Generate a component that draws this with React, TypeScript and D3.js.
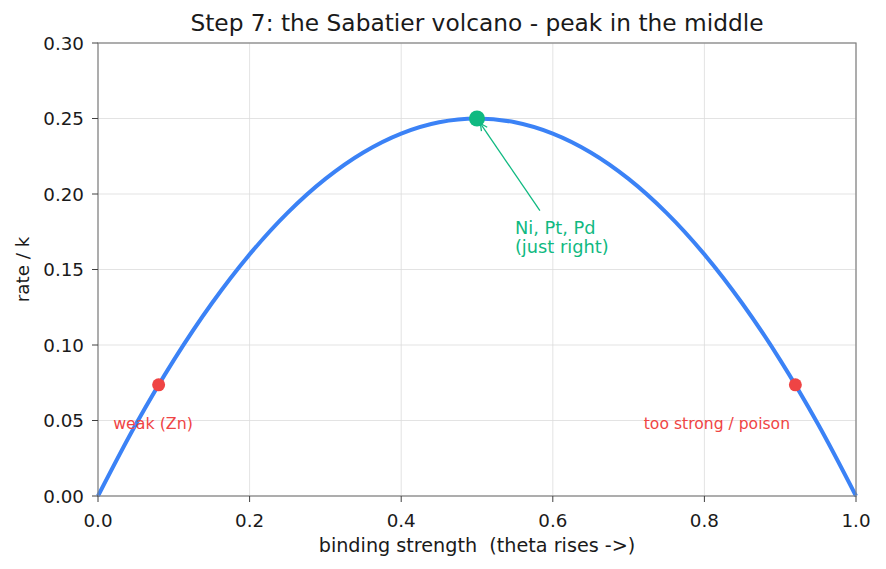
import * as d3 from 'd3'

// coverage (binding strength) and rate
const THETA = [0, 0.05, 0.1, 0.15, 0.2, 0.25, 0.3, 0.35, 0.4, 0.45, 0.5, 0.55, 0.6, 0.65, 0.7, 0.75, 0.8, 0.85, 0.9, 0.95, 1]
const RATE = [0, 0.0475, 0.09, 0.1275, 0.16, 0.1875, 0.21, 0.2275, 0.24, 0.2475, 0.25, 0.2475, 0.24, 0.2275, 0.21, 0.1875, 0.16, 0.1275, 0.09, 0.0475, 0]

// marked catalysts
const EDGE_X = [0.08, 0.92]
const EDGE_Y = [0.0736, 0.0736]
const PEAK = [0.5, 0.25]

const X_TICKS = [0, 0.2, 0.4, 0.6, 0.8, 1.0]
const Y_TICKS = [0, 0.05, 0.1, 0.15, 0.2, 0.25, 0.3]

const BLUE = '#3b82f6'
const RED = '#ef4444'
const GREEN = '#10b981'
const INK = '#1a1a1a'
const FONT = '"DejaVu Sans", sans-serif'

export default function App() {
  const width = 886
  const height = 569
  const m = { left: 98, right: 30, top: 43, bottom: 73 }

  const x = d3.scaleLinear().domain([0, 1]).range([m.left, width - m.right])
  const y = d3.scaleLinear().domain([0, 0.3]).range([height - m.bottom, m.top])

  const pts: [number, number][] = THETA.map((t, i) => [t, RATE[i]])
  const line = d3.line<[number, number]>()
    .x(d => x(d[0]))
    .y(d => y(d[1]))
    .curve(d3.curveCatmullRom.alpha(0.5))

  const x0 = x(0), x1 = x(1), y0 = y(0), y1 = y(0.3)

  // arrow from the label to the peak point
  const ax0 = x(0.583), ay0 = y(0.189)
  const px = x(PEAK[0]), py = y(PEAK[1])
  const ang = Math.atan2(py - ay0, px - ax0)
  const tipX = px - Math.cos(ang) * 6
  const tipY = py - Math.sin(ang) * 6
  const head = 7
  const hw = 3.5
  const fx = d3.format('.1f')
  const fy = d3.format('.2f')

  return (
    <svg width={width} height={height} style={{ position: 'absolute', left: 0, top: 0, background: '#fff' }} fontFamily={FONT}>
      <text x={(x0 + x1) / 2} y={31} textAnchor="middle" fontSize={23.3} fill={INK}>
        Step 7: the Sabatier volcano - peak in the middle
      </text>

      {/* grid */}
      {X_TICKS.map(t => (
        <line key={`gx${t}`} x1={x(t)} x2={x(t)} y1={y0} y2={y1} stroke="#dcdcdc" strokeWidth={0.8} />
      ))}
      {Y_TICKS.map(t => (
        <line key={`gy${t}`} x1={x0} x2={x1} y1={y(t)} y2={y(t)} stroke="#dcdcdc" strokeWidth={0.8} />
      ))}

      <path d={line(pts) ?? ''} fill="none" stroke={BLUE} strokeWidth={4} />

      {EDGE_X.map((v, i) => (
        <circle key={`e${i}`} cx={x(v)} cy={y(EDGE_Y[i])} r={6.5} fill={RED} />
      ))}
      <circle cx={px} cy={py} r={8} fill={GREEN} />

      {/* annotation arrow */}
      <line x1={ax0} y1={ay0} x2={tipX - Math.cos(ang) * 2} y2={tipY - Math.sin(ang) * 2} stroke={GREEN} strokeWidth={1.3} />
      <path
        d={`M${tipX},${tipY} L${tipX - Math.cos(ang) * head - Math.sin(ang) * hw},${tipY - Math.sin(ang) * head + Math.cos(ang) * hw} M${tipX},${tipY} L${tipX - Math.cos(ang) * head + Math.sin(ang) * hw},${tipY - Math.sin(ang) * head - Math.cos(ang) * hw}`}
        stroke={GREEN} strokeWidth={1.3} fill="none"
      />
      <text x={x(0.55)} y={234} fontSize={17.8} fill={GREEN}>Ni, Pt, Pd</text>
      <text x={x(0.55)} y={253} fontSize={17.8} fill={GREEN}>(just right)</text>

      <text x={x(0.02)} y={429} fontSize={15.8} fill={RED}>weak (Zn)</text>
      <text x={x(0.72)} y={429} fontSize={15.6} fill={RED}>too strong / poison</text>

      {/* frame */}
      <rect x={x0} y={y1} width={x1 - x0} height={y0 - y1} fill="none" stroke="#808080" strokeWidth={1.2} />

      {X_TICKS.map(t => (
        <g key={`tx${t}`}>
          <line x1={x(t)} x2={x(t)} y1={y0} y2={y0 + 6} stroke="#404040" strokeWidth={1} />
          <text x={x(t)} y={y0 + 30.5} textAnchor="middle" fontSize={18.3} fill={INK}>{fx(t)}</text>
        </g>
      ))}
      {Y_TICKS.map(t => (
        <g key={`ty${t}`}>
          <line x1={x0 - 6} x2={x0} y1={y(t)} y2={y(t)} stroke="#404040" strokeWidth={1} />
          <text x={x0 - 14} y={y(t) + 6.7} textAnchor="end" fontSize={18.3} fill={INK}>{fy(t)}</text>
        </g>
      ))}

      <text x={(x0 + x1) / 2} y={552} textAnchor="middle" fontSize={19.2} fill={INK} style={{ whiteSpace: 'pre' }}>
        {'binding strength  (theta rises ->)'}
      </text>
      <text transform={`translate(29,${(y0 + y1) / 2}) rotate(-90)`} textAnchor="middle" fontSize={18.3} fill={INK}>
        rate / k
      </text>
    </svg>
  )
}
